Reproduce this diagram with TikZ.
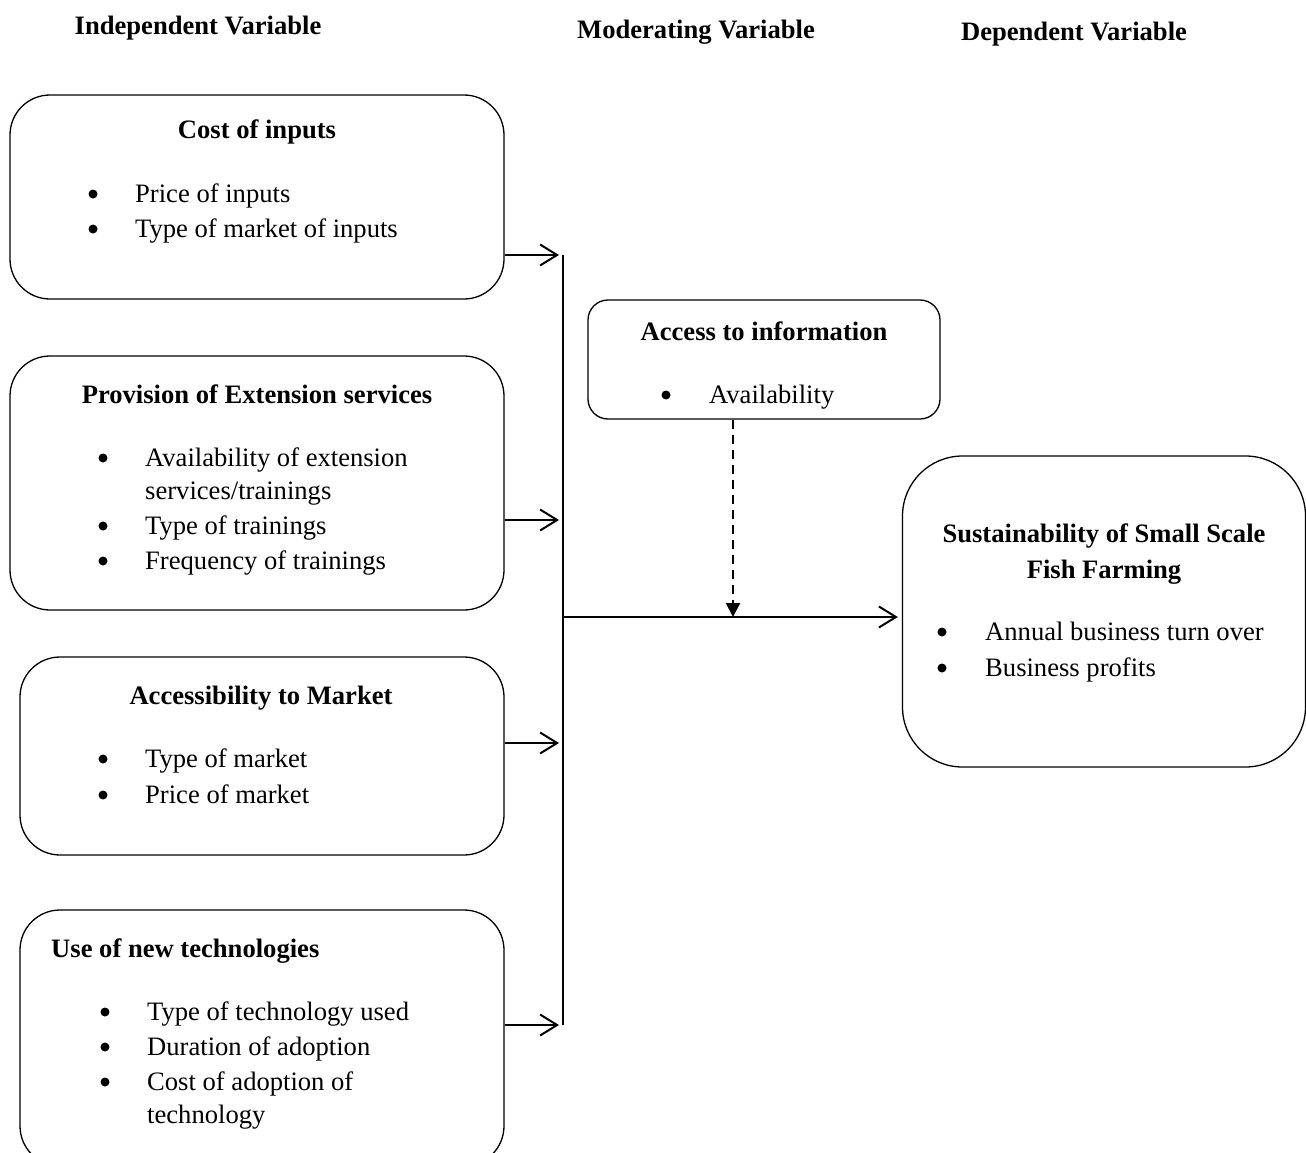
\documentclass[tikz,border=0pt]{standalone}
\usepackage{fontspec}
\setmainfont{Liberation Serif}
\usetikzlibrary{arrows.meta}
\tikzset{
  box/.style={draw, line width=1.3pt, rounded corners=40pt, inner sep=0pt},
  smallbox/.style={draw, line width=1.3pt, rounded corners=20pt, inner sep=0pt},
  txt/.style={anchor=base west, inner sep=0pt, font=\fontsize{26.6}{30}\selectfont},
  ttl/.style={anchor=base, inner sep=0pt, font=\fontsize{26.6}{30}\selectfont\bfseries},
  bul/.style={circle, fill, inner sep=0pt, minimum size=9pt},
  feed/.style={line width=2pt, -{Straight Barb[length=17pt,width=21pt,line width=2pt]}, shorten >=4pt},
  modline/.style={line width=2pt, dash pattern=on 9pt off 6pt, -{Triangle[length=14pt,width=14pt]}}
}
\begin{document}
\begin{tikzpicture}[x=1pt,y=-1pt]
\useasboundingbox (0,0) rectangle (1306,1153);
% headers
\node[ttl] (h1) at (198,35) {Independent Variable};
\node[ttl] (h2) at (696,39) {Moderating Variable};
\node[ttl] (h3) at (1074,41) {Dependent Variable};
% box 1
\node[box, minimum width=494pt, minimum height=204pt] (b1) at (257,197) {};
\node[ttl] (t1) at (257,139) {Cost of inputs};
\node[bul] (b1a) at (93,194) {}; \node[txt] (l1a) at (135,202) {Price of inputs};
\node[bul] (b1b) at (93,229) {}; \node[txt] (l1b) at (135,237) {Type of market of inputs};
% box 2
\node[box, minimum width=494pt, minimum height=254pt] (b2) at (257,483) {};
\node[ttl] (t2) at (257,403) {Provision of Extension services};
\node[bul] (b2a) at (103,458) {}; \node[txt] (l2a) at (145,466) {Availability of extension};
\node[txt] (l2a2) at (145,499) {services/trainings};
\node[bul] (b2b) at (103,526) {}; \node[txt] (l2b) at (145,534) {Type of trainings};
\node[bul] (b2c) at (103,561) {}; \node[txt] (l2c) at (145,569) {Frequency of trainings};
% box 3
\node[box, minimum width=484pt, minimum height=198pt] (b3) at (262,756) {};
\node[ttl] (t3) at (261,704) {Accessibility to Market};
\node[bul] (b3a) at (103,759) {}; \node[txt] (l3a) at (145,767) {Type of market};
\node[bul] (b3b) at (103,795) {}; \node[txt] (l3b) at (145,803) {Price of market};
% box 4
\node[box, minimum width=484pt, minimum height=256pt] (b4) at (262,1038) {};
\node[txt, font=\fontsize{26.6}{30}\selectfont\bfseries] (t4) at (51,957) {Use of new technologies};
\node[bul] (b4a) at (105,1012) {}; \node[txt] (l4a) at (147,1020) {Type of technology used};
\node[bul] (b4b) at (105,1047) {}; \node[txt] (l4b) at (147,1055) {Duration of adoption};
\node[bul] (b4c) at (105,1082) {}; \node[txt] (l4c) at (147,1090) {Cost of adoption of};
\node[txt] (l4c2) at (147,1123) {technology};
% moderating box
\node[smallbox, minimum width=352pt, minimum height=119pt] (m) at (764,359.5) {};
\node[ttl] (tm) at (764,340) {Access to information};
\node[bul] (bma) at (666,395) {}; \node[txt] (lma) at (709,403) {Availability};
% dependent box
\node[box, rounded corners=60pt, minimum width=403pt, minimum height=311pt] (d) at (1104,611.5) {};
\node[ttl] (td1) at (1104,542) {Sustainability of Small Scale};
\node[ttl] (td2) at (1104,578) {Fish Farming};
\node[bul] (bda) at (942,632) {}; \node[txt] (lda) at (985,640) {Annual business turn over};
\node[bul] (bdb) at (942,668) {}; \node[txt] (ldb) at (985,676) {Business profits};
% connectors
\coordinate (bartop) at (563,255);
\coordinate (barbot) at (563,1025);
\coordinate (barmid) at (563,617);
\coordinate (j) at (733,617);
\draw[line width=1.3pt] (bartop) -- (barbot);
\draw[feed] (b1.east |- bartop) -- (bartop);
\draw[feed] (b2.east |- 0,520) -- (563,520);
\draw[feed] (b3.east |- 0,743) -- (563,743);
\draw[feed] (b4.east |- barbot) -- (barbot);
\draw[feed] (barmid) -- (d.west |- barmid);
\draw[modline] (m.south -| j) -- (j);
\end{tikzpicture}
\end{document}
